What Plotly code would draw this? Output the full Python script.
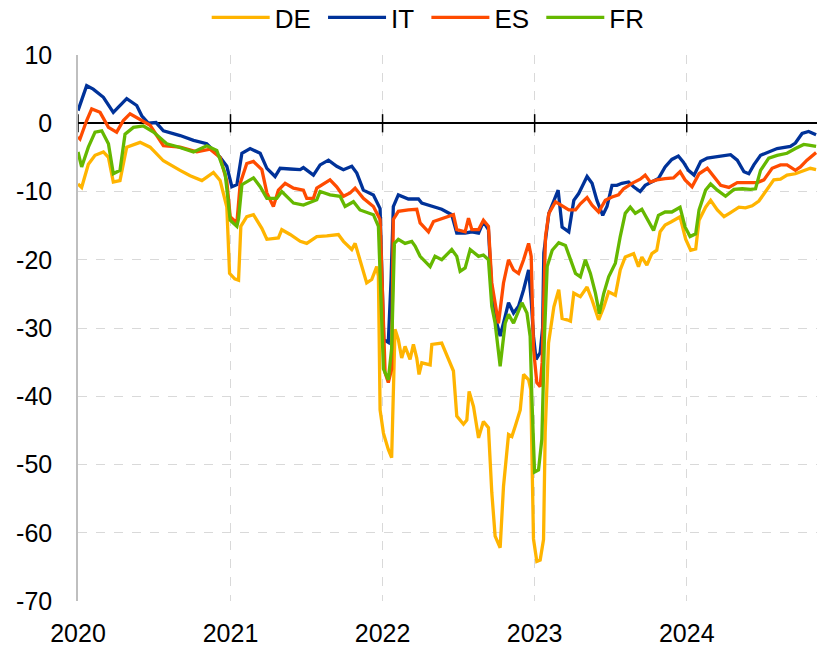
import pandas as pd
import plotly.graph_objects as go

# time in years since 2020-01-01, values in the chart's units
de_t = [0.0, 0.024, 0.068, 0.112, 0.167, 0.2, 0.232, 0.276, 0.32, 0.408, 0.474, 0.561, 0.671, 0.737, 0.814, 0.89, 0.934, 0.978, 0.996,
        1.03, 1.055, 1.07, 1.109, 1.153, 1.208, 1.241, 1.317, 1.339, 1.394, 1.46, 1.503, 1.547, 1.569, 1.635, 1.711, 1.744, 1.799, 1.821, 1.853, 1.897, 1.93, 1.963, 1.974, 1.985,
        2.007, 2.039, 2.061, 2.072, 2.083, 2.105, 2.127, 2.149, 2.182, 2.204, 2.226, 2.241, 2.259, 2.314, 2.325, 2.39, 2.423, 2.467, 2.489, 2.533, 2.555, 2.57, 2.599, 2.632, 2.664, 2.697, 2.719, 2.741, 2.774, 2.796, 2.829, 2.851, 2.873, 2.906, 2.928, 2.961, 2.975, 2.985, 2.993,
        3.015, 3.037, 3.059, 3.07, 3.092, 3.114, 3.127, 3.159, 3.181, 3.214, 3.236, 3.258, 3.301, 3.345, 3.378, 3.421, 3.454, 3.487, 3.531, 3.563, 3.596, 3.651, 3.683, 3.705, 3.738, 3.771, 3.803, 3.825, 3.858, 3.902, 3.956, 3.993,
        4.026, 4.059, 4.081, 4.124, 4.157, 4.201, 4.245, 4.288, 4.343, 4.386, 4.43, 4.474, 4.528, 4.572, 4.616, 4.659, 4.714, 4.769, 4.812, 4.85]
de_v = [-8.9, -9.4, -6.0, -4.7, -4.2, -5.0, -8.6, -8.4, -3.5, -2.8, -3.5, -5.5, -6.9, -7.7, -8.4, -7.2, -8.4, -12.3, -22.0,
        -22.8, -23.0, -15.1, -13.7, -13.4, -15.4, -17.0, -16.8, -15.6, -16.3, -17.3, -17.6, -17.0, -16.6, -16.5, -16.3, -17.3, -18.5, -17.6, -20.0, -23.4, -22.9, -21.0, -22.4, -42.0,
        -45.4, -47.8, -49.0, -37.0, -30.2, -31.7, -34.4, -32.7, -34.6, -32.4, -34.4, -36.8, -35.1, -35.4, -32.4, -32.2, -33.9, -36.3, -42.9, -44.1, -43.5, -39.3, -41.5, -46.1, -43.7, -44.6, -54.1, -60.5, -62.2, -53.2, -45.6, -45.9, -44.4, -42.0, -36.8, -37.6, -39.0, -52.0, -60.9,
        -64.2, -64.0, -61.0, -45.3, -32.2, -28.8, -26.9, -24.4, -28.6, -28.8, -29.0, -24.9, -25.4, -24.0, -25.9, -28.8, -27.0, -24.7, -25.2, -21.5, -19.6, -19.1, -21.0, -19.6, -20.8, -19.1, -18.6, -15.9, -14.9, -14.4, -13.7, -17.0,
        -18.6, -18.4, -14.2, -12.3, -11.3, -12.7, -13.7, -13.1, -12.3, -12.4, -12.1, -11.4, -9.8, -8.3, -8.2, -7.6, -7.4, -6.9, -6.6, -6.8]

it_t = [0.0, 0.057, 0.1, 0.167, 0.232, 0.32, 0.386, 0.419, 0.463, 0.513, 0.561, 0.671, 0.759, 0.846, 0.934, 0.978,
        1.011, 1.044, 1.077, 1.131, 1.197, 1.241, 1.295, 1.328, 1.394, 1.46, 1.481, 1.547, 1.591, 1.646, 1.7, 1.744, 1.799, 1.832, 1.875, 1.941, 1.985, 1.998,
        2.009, 2.039, 2.057, 2.072, 2.105, 2.171, 2.237, 2.259, 2.325, 2.39, 2.456, 2.489, 2.544, 2.588, 2.632, 2.664, 2.697, 2.719, 2.752, 2.774, 2.807, 2.829, 2.862, 2.895, 2.928, 2.961, 2.978, 2.993,
        3.01, 3.037, 3.053, 3.061, 3.094, 3.127, 3.155, 3.181, 3.225, 3.258, 3.29, 3.312, 3.345, 3.378, 3.41, 3.448, 3.476, 3.509, 3.541, 3.574, 3.618, 3.651, 3.694, 3.727, 3.771, 3.814, 3.858, 3.902, 3.945, 3.978,
        4.011, 4.048, 4.092, 4.135, 4.201, 4.288, 4.332, 4.376, 4.408, 4.441, 4.485, 4.528, 4.594, 4.681, 4.714, 4.758, 4.801, 4.85]
it_v = [1.85, 5.5, 5.0, 3.8, 1.6, 3.6, 2.6, 1.1, 0.0, 0.1, -1.1, -1.8, -2.5, -3.0, -5.0, -6.3,
        -9.3, -9.0, -4.4, -3.7, -4.4, -6.6, -7.8, -6.6, -6.7, -6.8, -6.5, -7.6, -6.1, -5.4, -6.3, -6.8, -6.3, -7.3, -9.8, -10.5, -12.5, -23.0,
        -31.7, -32.1, -23.0, -12.2, -10.5, -11.1, -11.1, -11.7, -12.1, -12.6, -13.4, -16.1, -16.1, -15.9, -16.1, -14.4, -15.6, -24.4, -29.3, -31.2, -28.3, -26.3, -27.8, -26.8, -24.4, -21.5, -25.9, -31.2,
        -34.6, -33.6, -30.0, -19.0, -13.2, -11.3, -9.8, -15.2, -15.9, -11.3, -10.3, -9.3, -7.8, -8.8, -11.3, -13.5, -12.2, -9.1, -9.1, -8.8, -8.6, -9.3, -10.0, -9.1, -8.6, -8.1, -6.4, -5.3, -4.8, -5.7,
        -6.9, -7.6, -5.6, -5.1, -4.9, -4.6, -5.4, -7.1, -7.4, -6.1, -4.7, -4.3, -3.7, -3.4, -2.9, -1.5, -1.2, -1.7]

es_t = [0.0, 0.013, 0.057, 0.09, 0.145, 0.2, 0.254, 0.298, 0.342, 0.408, 0.474, 0.561, 0.671, 0.781, 0.868, 0.934, 0.978,
        1.0, 1.044, 1.066, 1.109, 1.153, 1.208, 1.241, 1.284, 1.317, 1.361, 1.416, 1.481, 1.503, 1.547, 1.569, 1.656, 1.7, 1.744, 1.788, 1.821, 1.875, 1.941, 1.985,
        2.002, 2.018, 2.039, 2.061, 2.072, 2.105, 2.171, 2.226, 2.248, 2.303, 2.336, 2.39, 2.467, 2.489, 2.544, 2.566, 2.588, 2.632, 2.664, 2.697, 2.719, 2.763, 2.796, 2.829, 2.862, 2.895, 2.928, 2.961, 2.978, 2.993,
        3.015, 3.037, 3.05, 3.072, 3.094, 3.138, 3.181, 3.225, 3.269, 3.301, 3.345, 3.378, 3.421, 3.465, 3.509, 3.552, 3.585, 3.64, 3.694, 3.727, 3.76, 3.803, 3.858, 3.913, 3.956, 3.989,
        4.035, 4.081, 4.135, 4.179, 4.223, 4.277, 4.332, 4.397, 4.463, 4.507, 4.561, 4.616, 4.659, 4.714, 4.747, 4.79, 4.85]
es_v = [-2.0, -2.3, 0.4, 2.1, 1.6, -0.6, -1.3, 0.4, 1.4, 0.6, -0.3, -3.3, -3.5, -4.2, -3.8, -5.0, -8.5,
        -13.7, -14.6, -8.8, -5.9, -5.6, -6.8, -10.2, -12.2, -9.8, -8.8, -9.5, -9.8, -11.0, -11.0, -9.5, -8.3, -9.3, -10.7, -10.2, -9.5, -11.0, -12.2, -14.1,
        -27.3, -36.6, -38.0, -36.0, -14.1, -12.9, -12.7, -12.6, -14.6, -15.9, -14.4, -14.0, -13.4, -15.6, -15.9, -13.9, -15.6, -15.6, -14.2, -15.1, -23.4, -29.3, -23.4, -20.0, -21.5, -22.0, -20.0, -17.6, -19.5, -33.0,
        -38.0, -38.6, -35.0, -16.6, -13.2, -11.5, -12.1, -12.7, -12.7, -11.8, -10.9, -12.0, -13.0, -11.3, -10.8, -10.5, -9.6, -8.8, -8.2, -7.6, -8.6, -8.3, -8.1, -8.0, -7.1, -8.3,
        -9.3, -7.4, -6.6, -7.8, -9.1, -9.4, -8.7, -8.7, -8.7, -8.3, -6.6, -6.1, -6.1, -6.9, -6.4, -5.4, -4.3]

fr_t = [0.0, 0.024, 0.068, 0.112, 0.156, 0.2, 0.232, 0.276, 0.309, 0.364, 0.43, 0.496, 0.583, 0.649, 0.759, 0.846, 0.912, 0.967, 0.985,
        1.0, 1.044, 1.055, 1.077, 1.153, 1.197, 1.241, 1.306, 1.339, 1.416, 1.481, 1.569, 1.591, 1.656, 1.722, 1.755, 1.81, 1.853, 1.941, 1.974, 1.996,
        2.007, 2.039, 2.061, 2.079, 2.105, 2.149, 2.193, 2.215, 2.248, 2.314, 2.346, 2.39, 2.456, 2.489, 2.511, 2.544, 2.577, 2.632, 2.664, 2.697, 2.719, 2.741, 2.774, 2.807, 2.829, 2.862, 2.895, 2.917, 2.95, 2.971, 2.982,
        3.0, 3.026, 3.048, 3.066, 3.083, 3.116, 3.159, 3.203, 3.236, 3.269, 3.301, 3.334, 3.367, 3.4, 3.426, 3.454, 3.487, 3.531, 3.563, 3.596, 3.629, 3.662, 3.705, 3.738, 3.782, 3.814, 3.858, 3.902, 3.956, 3.989,
        4.022, 4.059, 4.081, 4.124, 4.157, 4.201, 4.255, 4.31, 4.365, 4.419, 4.452, 4.485, 4.539, 4.594, 4.659, 4.714, 4.769, 4.801, 4.85]
fr_v = [-4.2, -6.4, -3.5, -1.3, -1.1, -3.0, -7.4, -6.9, -1.6, -0.6, -0.4, -1.3, -3.0, -3.4, -4.2, -3.3, -4.0, -7.4, -11.0,
        -14.2, -15.1, -14.0, -9.0, -8.0, -9.3, -11.0, -11.0, -10.0, -11.7, -12.0, -11.2, -10.0, -10.5, -10.7, -12.2, -11.5, -12.7, -13.4, -15.1, -27.3,
        -36.0, -37.6, -33.0, -17.6, -17.0, -17.6, -17.3, -18.0, -19.5, -21.0, -19.5, -20.0, -18.5, -19.5, -21.7, -21.2, -18.5, -19.5, -19.3, -20.0, -26.8, -29.3, -35.6, -29.3, -28.0, -29.3, -27.6, -26.3, -27.8, -31.2, -40.0,
        -51.1, -50.8, -46.3, -30.7, -21.0, -18.6, -17.5, -17.9, -20.0, -22.0, -22.5, -20.0, -22.0, -24.9, -27.9, -25.0, -22.5, -20.5, -16.6, -13.2, -12.3, -13.2, -12.6, -14.0, -15.7, -13.5, -13.0, -13.0, -12.3, -15.2,
        -16.6, -16.2, -12.7, -9.8, -8.9, -9.8, -10.7, -9.7, -9.6, -9.7, -9.6, -6.9, -5.1, -4.7, -4.4, -3.7, -3.1, -3.2, -3.4]

series_names = ["DE", "IT", "ES", "FR"]
series_colors = ["#FFB400", "#003299", "#FF4B00", "#65B800"]
tick_years = [2020, 2021, 2022, 2023, 2024]
y_ticks = [10, 0, -10, -20, -30, -40, -50, -60, -70]

base = pd.Timestamp("2020-01-01")


def to_dates(ts):
    return [base + pd.to_timedelta(t * 365.25, unit="D") for t in ts]


fig = go.Figure()
for name, color, ts, vs in zip(series_names, series_colors,
                               [de_t, it_t, es_t, fr_t], [de_v, it_v, es_v, fr_v]):
    fig.add_trace(go.Scatter(x=to_dates(ts), y=vs, mode="lines",
                             name=name + "\u00a0",
                             line=dict(color=color, width=3.3), hoverinfo="skip"))

# cross ticks on the zero line at each year
fig.add_trace(go.Scatter(x=[pd.Timestamp(f"{y}-01-01") for y in tick_years], y=[0] * len(tick_years),
                         mode="markers", showlegend=False, hoverinfo="skip", cliponaxis=False,
                         marker=dict(symbol="line-ns", size=13, line=dict(color="black", width=1.5))))

font_family = "Liberation Sans, Arial, sans-serif"
fig.update_layout(
    width=827, height=649,
    margin=dict(l=78, r=10, t=55, b=48),
    paper_bgcolor="white", plot_bgcolor="white",
    font=dict(family=font_family, size=25, color="black"),
    showlegend=True,
    legend=dict(orientation="h", xref="container", yref="container",
                x=0.522, xanchor="center", y=1 - 17.5 / 649, yanchor="middle",
                font=dict(size=26), itemwidth=58, traceorder="normal",
                bgcolor="rgba(0,0,0,0)", tracegroupgap=0),
    xaxis=dict(type="date", automargin=False,
               range=[base, base + pd.to_timedelta(4.856 * 365.25, unit="D")],
               tickvals=[pd.Timestamp(f"{y}-01-01") for y in tick_years],
               ticktext=[str(y) for y in tick_years],
               showgrid=True, gridcolor="#d9d9d9", griddash="dash", gridwidth=1,
               zeroline=False, showline=False, ticks="", ticklabelstandoff=15,
               tickfont=dict(size=25)),
    yaxis=dict(range=[-70, 10], tickvals=y_ticks, ticktext=[str(v) for v in y_ticks],
               automargin=False,
               showgrid=True, gridcolor="#d9d9d9", griddash="dash", gridwidth=1,
               zeroline=True, zerolinecolor="black", zerolinewidth=1.5,
               showline=True, linecolor="#bfbfbf", linewidth=1.5,
               ticks="", ticklabelstandoff=19, tickfont=dict(size=25)),
)

fig.write_html("out.html", config={"displayModeBar": False},
               post_script="document.body.style.margin='0px';document.body.style.overflow='hidden';")
